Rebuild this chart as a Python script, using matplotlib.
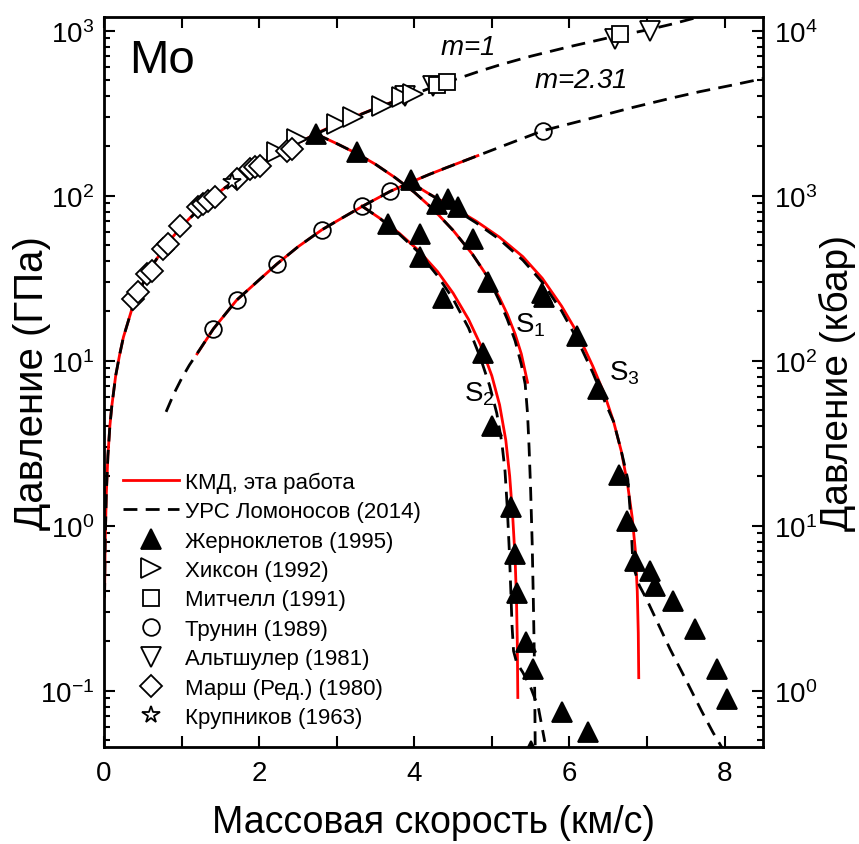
import matplotlib
matplotlib.use("Agg")
import matplotlib.pyplot as plt
from matplotlib.ticker import LogLocator, MultipleLocator, NullFormatter

plt.rcParams['font.family'] = ['Liberation Sans', 'DejaVu Sans']
plt.rcParams['mathtext.fontset'] = 'custom'
plt.rcParams['mathtext.rm'] = 'Liberation Sans'
plt.rcParams['mathtext.it'] = 'Liberation Sans:italic'

# principal Hugoniot (m=1)
hug_u_kmd = [0.007, 0.015, 0.03, 0.05, 0.075, 0.1, 0.15, 0.2, 0.25, 0.3, 0.35, 0.4, 0.5, 0.6, 0.7, 0.8, 0.9,
             1.0, 1.1, 1.25, 1.4, 1.6, 1.8, 2.0, 2.2, 2.4, 2.6, 2.8, 3.0, 3.2, 3.4, 3.6, 3.8, 3.9]
hug_p_kmd = [0.37, 0.79, 1.58, 2.65, 4.0, 5.3, 8.1, 10.8, 13.9, 16.6, 19.9, 22.9, 29.3, 36.5, 42.8, 50.0, 57.3,
             65, 72.7, 85, 97.8, 115.7, 134.7, 154.6, 175.6, 197.5, 220.4, 246.4, 271, 297, 324, 353, 382, 398]
hug_u_urs = [0.007, 0.015, 0.03, 0.05, 0.075, 0.1, 0.15, 0.2, 0.25, 0.3, 0.35, 0.4, 0.5, 0.6, 0.7, 0.8, 0.9,
             1.0, 1.25, 1.5, 2.0, 2.5, 3.0, 3.5, 4.0, 4.2, 4.4, 4.6, 4.85, 5.1, 5.5, 6.0, 6.5, 7.0, 7.3, 7.65]
hug_p_urs = [0.37, 0.79, 1.58, 2.65, 4.0, 5.3, 8.1, 10.8, 13.9, 16.6, 19.9, 22.9, 29.3, 36.5, 42.8, 50.0, 57.3,
             65, 85, 107, 154.6, 209, 271, 338, 413, 448, 485, 520, 570, 620, 700, 800, 905, 1010, 1090, 1205]

# porous Hugoniot (m=2.31)
por_u_kmd = [1.2, 1.41, 1.71, 2.0, 2.23, 2.5, 2.81, 3.05, 3.33, 3.69, 3.96, 4.2, 4.4, 4.82]
por_p_kmd = [11.0, 15.6, 23.3, 30.9, 38.6, 49, 62.2, 72.4, 86.2, 106.3, 121, 135, 147, 175]
por_u_urs = [0.8, 0.9, 1.0, 1.1, 1.24, 1.41, 1.71, 2.0, 2.23, 2.5, 2.81, 3.05, 3.33, 3.69, 3.96, 4.2, 4.4, 4.82,
             5.2, 5.66, 6.2, 6.82, 7.3, 7.68, 8.1, 8.5]
por_p_urs = [4.9, 6.3, 7.8, 9.4, 11.8, 15.6, 23.3, 30.9, 38.6, 49, 62.2, 72.4, 86.2, 106.3, 121, 135, 147, 175,
             205, 248, 288, 343, 389, 427, 468, 513]

# release curves
s1_u_kmd = [2.73, 3.0, 3.26, 3.5, 3.75, 4.0, 4.25, 4.5, 4.75, 4.95, 5.1, 5.2, 5.3, 5.38, 5.46]
s1_p_kmd = [237, 207, 180, 155, 129, 105, 82.2, 61.7, 44.2, 32.0, 24.0, 19.1, 14.5, 11.0, 7.4]
s1_u_urs = [2.73, 3.0, 3.26, 3.5, 3.75, 4.0, 4.25, 4.5, 4.75, 4.95, 5.1, 5.2, 5.3, 5.38, 5.43, 5.46, 5.48,
            5.50, 5.52, 5.535, 5.548, 5.555, 5.56]
s1_p_urs = [237, 207, 180, 155, 129, 105, 82.2, 61.7, 44.2, 32.0, 22.9, 17.8, 13.2, 9.5, 7.2, 4.8, 3.0,
            1.66, 0.79, 0.355, 0.158, 0.079, 0.040]

s2_u_kmd = [3.325, 3.55, 3.8, 4.05, 4.3, 4.5, 4.7, 4.85, 5.0, 5.1, 5.18, 5.23, 5.27, 5.3, 5.318, 5.328, 5.335]
s2_p_kmd = [86.5, 73.3, 59.6, 46.8, 34.7, 25.7, 17.8, 12.6, 8.1, 5.4, 3.3, 2.0, 1.12, 0.63, 0.355, 0.20, 0.091]
s2_u_urs = [3.325, 3.55, 3.8, 4.05, 4.3, 4.5, 4.7, 4.85, 4.97, 5.064, 5.13, 5.17, 5.2, 5.225, 5.245, 5.26,
            5.28, 5.32, 5.40, 5.5, 5.6, 5.683]
s2_p_urs = [86.5, 73.3, 58.9, 45.7, 32.7, 23.7, 15.8, 10.5, 7.1, 4.8, 3.16, 2.14, 1.26, 0.71, 0.40, 0.25,
            0.174, 0.148, 0.129, 0.105, 0.079, 0.049]

s3_u_kmd = [3.943, 4.2, 4.5, 4.8, 5.1, 5.4, 5.65, 5.9, 6.1, 6.3, 6.45, 6.57, 6.67, 6.75, 6.81, 6.85, 6.875,
            6.888, 6.894]
s3_p_kmd = [121, 102, 85, 70, 56, 42.7, 31.6, 21.4, 14.8, 9.3, 6.3, 4.27, 2.82, 1.78, 1.12, 0.71, 0.40,
            0.224, 0.12]
s3_u_urs = [3.943, 4.2, 4.5, 4.8, 5.1, 5.4, 5.65, 5.9, 6.1, 6.3, 6.45, 6.57, 6.67, 6.753, 6.79, 6.82, 6.9,
            7.0, 7.15, 7.3, 7.5, 7.7, 7.85, 7.97]
s3_p_urs = [121, 102, 84, 68.4, 54.3, 40.7, 29.9, 20.0, 13.5, 8.5, 5.75, 4.27, 2.82, 1.91, 1.12, 0.575, 0.436,
            0.355, 0.251, 0.178, 0.117, 0.076, 0.056, 0.045]

# experiments
zhern_u = [2.732, 3.26, 3.956, 4.291, 4.433, 4.562, 3.66, 4.072, 4.072, 4.369, 4.755, 4.948, 5.644, 5.67,
           6.095, 4.884, 6.366, 5.0, 6.637, 5.245, 6.74, 5.296, 6.843, 5.322, 7.036, 7.101, 5.438, 7.332,
           5.528, 7.616, 7.899, 5.902, 8.028, 6.237, 5.50]
zhern_p = [237, 184, 124, 89, 95, 85.5, 67.3, 58.6, 42.5, 24.0, 54.7, 30.0, 25.7, 24.3,
           14.1, 11.1, 6.73, 4.02, 2.03, 1.30, 1.07, 0.673, 0.611, 0.391, 0.531, 0.431, 0.197, 0.350,
           0.136, 0.237, 0.136, 0.0743, 0.089, 0.0562, 0.043]
hixson_u = [2.226, 2.483, 3.0, 3.209, 3.579, 3.84, 3.982]
hixson_p = [183, 221, 272, 300, 351, 396, 413]
mitchell_u = [4.287, 4.416, 6.65]
mitchell_p = [469, 486, 955]
trunin_u = [1.408, 1.71, 2.226, 2.813, 3.329, 3.686, 5.661]
trunin_p = [15.6, 23.3, 38.6, 62.2, 86.2, 106.3, 248]
altsh_u = [3.88, 4.24, 6.585, 7.036]
altsh_p = [402, 462, 890, 1000]
marsh_u = [0.378, 0.442, 0.55, 0.615, 0.764, 0.83, 0.98, 1.215, 1.28, 1.344, 1.43, 1.71, 1.88, 1.946, 2.01, 2.354, 2.42]
marsh_p = [23.7, 26.0, 33.5, 35.1, 47.5, 51, 65.8, 85, 89, 93.3, 97.7, 126, 145, 149, 152, 187.5, 192]
krup_u = [1.646]
krup_p = [121.6]

fig = plt.figure(figsize=(8.59, 8.45), dpi=100)
ax = fig.add_axes([0.1211, 0.1144, 0.7675, 0.8639])

red = dict(color='#ff0000', lw=2.0, zorder=2)
dash = dict(color='black', lw=2.0, ls=(0, (5, 3)), zorder=2.5)

ax.plot(hug_u_kmd, hug_p_kmd, label='КМД, эта работа', **red)
ax.plot(hug_u_urs, hug_p_urs, label='УРС Ломоносов (2014)', **dash)
for uu, pp in [(por_u_kmd, por_p_kmd), (s1_u_kmd, s1_p_kmd), (s2_u_kmd, s2_p_kmd), (s3_u_kmd, s3_p_kmd)]:
    ax.plot(uu, pp, **red)
for uu, pp in [(por_u_urs, por_p_urs), (s1_u_urs, s1_p_urs), (s2_u_urs, s2_p_urs), (s3_u_urs, s3_p_urs)]:
    ax.plot(uu, pp, **dash)

mk = dict(ls='none', mec='black', mew=1.3)
ax.plot(zhern_u, zhern_p, marker='^', ms=15, mfc='black', zorder=5, label='Жерноклетов (1995)', **mk)
ax.plot(hixson_u, hixson_p, marker='>', ms=14, mfc='white', zorder=4, label='Хиксон (1992)', **mk)
ax.plot(mitchell_u, mitchell_p, marker='s', ms=11, mfc='white', zorder=4, label='Митчелл (1991)', **mk)
ax.plot(trunin_u, trunin_p, marker='o', ms=12, mfc='none', zorder=3, label='Трунин (1989)', **mk)
ax.plot(altsh_u, altsh_p, marker='v', ms=14, mfc='white', zorder=3.5, label='Альтшулер (1981)', **mk)
ax.plot(marsh_u, marsh_p, marker='D', ms=11, mfc='white', zorder=4, label='Марш (Ред.) (1980)', **mk)
ax.plot(krup_u, krup_p, marker='*', ms=13, mfc='white', zorder=4.5, label='Крупников (1963)', **mk)

ax.set_yscale('log')
ax.set_xlim(0, 8.5)
ymin, ymax = 0.0454, 1205
ax.set_ylim(ymin, ymax)
ax.xaxis.set_major_locator(MultipleLocator(2))
ax.xaxis.set_minor_locator(MultipleLocator(1))
ax.yaxis.set_major_locator(LogLocator(base=10, numticks=10))
ax.yaxis.set_minor_locator(LogLocator(base=10, subs=range(2, 10), numticks=10))
ax.yaxis.set_minor_formatter(NullFormatter())
ax.tick_params(axis='x', which='both', direction='in', top=True, length=8, width=1.5, labelsize=20, pad=9)
ax.tick_params(axis='y', which='major', direction='in', right=False, length=8, width=1.5, labelsize=20, pad=7)
ax.tick_params(axis='y', which='minor', direction='in', right=False, length=4.5, width=1.5)
for s in ax.spines.values():
    s.set_linewidth(2)

ax2 = ax.twinx()
ax2.set_yscale('log')
ax2.set_ylim(ymin * 10, ymax * 10)
ax2.yaxis.set_major_locator(LogLocator(base=10, numticks=10))
ax2.yaxis.set_minor_locator(LogLocator(base=10, subs=range(2, 10), numticks=10))
ax2.yaxis.set_minor_formatter(NullFormatter())
ax2.tick_params(axis='y', which='major', direction='in', length=8, width=1.5, labelsize=20, pad=8)
ax2.tick_params(axis='y', which='minor', direction='in', length=4.5, width=1.5)

ax.set_xlabel('Массовая скорость (км/с)', fontsize=27, labelpad=13)
ax.set_ylabel('Давление (ГПа)', fontsize=29, labelpad=-8)
ax2.set_ylabel('Давление (кбар)', fontsize=28, labelpad=1)

ax.text(0.038, 0.925, 'Mo', transform=ax.transAxes, fontsize=34, va='baseline')
ax.text(4.33, 723, '$m$=1', fontsize=20, style='italic', va='baseline')
ax.text(5.55, 456, '$m$=2.31', fontsize=20, style='italic', va='baseline')
ax.text(5.30, 15.1, r'$\mathregular{S_1}$', fontsize=20, va='baseline')
ax.text(4.64, 5.72, r'$\mathregular{S_2}$', fontsize=20, va='baseline')
ax.text(6.51, 7.74, r'$\mathregular{S_3}$', fontsize=20, va='baseline')

leg = ax.legend(loc='upper left', bbox_to_anchor=(0.029, 0.378), frameon=False, fontsize=16,
                handlelength=2.5, handletextpad=0.3, labelspacing=0.38, borderpad=0, borderaxespad=0,
                numpoints=1)
leg.set_zorder(10)

fig.savefig('out.png', dpi=100)
